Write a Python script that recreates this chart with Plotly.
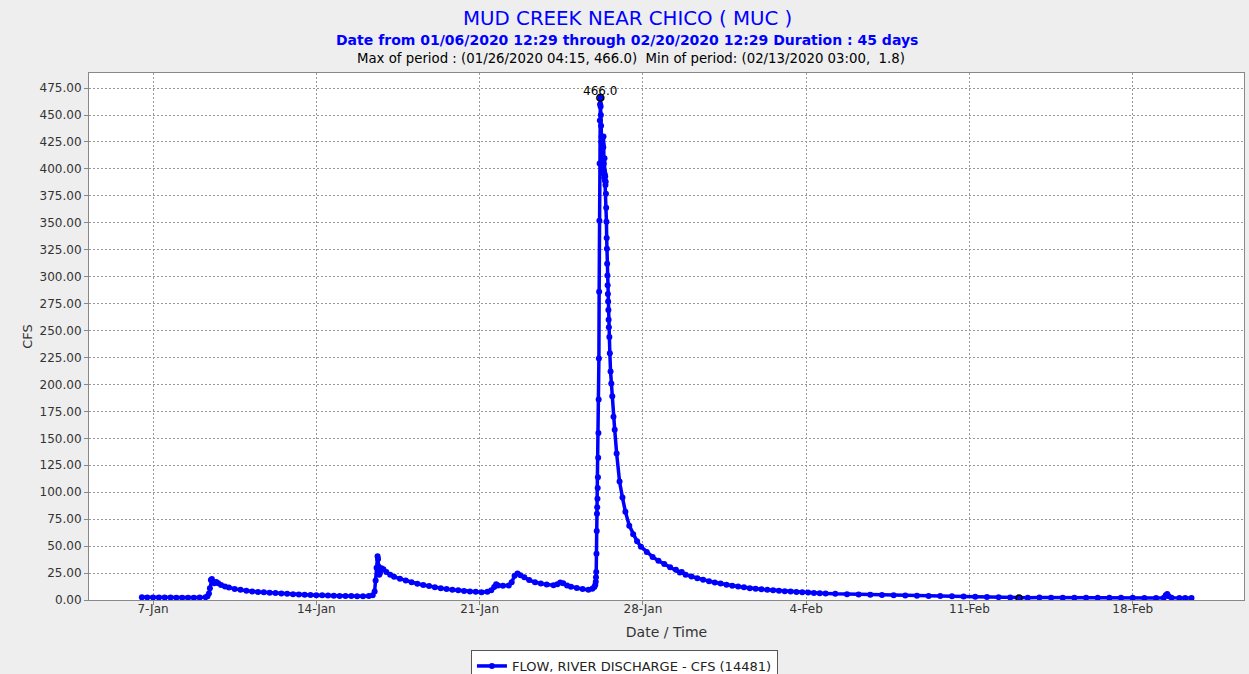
import plotly.graph_objects as go

# ---- data ----
times = [
    "2020-01-06 12:30", "2020-01-06 18:00", "2020-01-07 00:00", "2020-01-07 06:00", "2020-01-07 12:00",
    "2020-01-07 18:00", "2020-01-08 00:00", "2020-01-08 06:00", "2020-01-08 12:00", "2020-01-08 18:00",
    "2020-01-09 00:00", "2020-01-09 06:00", "2020-01-09 08:00", "2020-01-09 09:30", "2020-01-09 10:30",
    "2020-01-09 11:30", "2020-01-09 12:30", "2020-01-09 13:30", "2020-01-09 15:00", "2020-01-09 17:00",
    "2020-01-09 19:00", "2020-01-09 22:00", "2020-01-10 02:00", "2020-01-10 06:00", "2020-01-10 12:00",
    "2020-01-10 18:00", "2020-01-11 00:00", "2020-01-11 06:00", "2020-01-11 12:00", "2020-01-11 18:00",
    "2020-01-12 00:00", "2020-01-12 06:00", "2020-01-12 12:00", "2020-01-12 18:00", "2020-01-13 00:00",
    "2020-01-13 06:00", "2020-01-13 12:00", "2020-01-13 18:00", "2020-01-14 00:00", "2020-01-14 06:00",
    "2020-01-14 12:00", "2020-01-14 18:00", "2020-01-15 00:00", "2020-01-15 06:00", "2020-01-15 12:00",
    "2020-01-15 18:00", "2020-01-16 00:00", "2020-01-16 06:00", "2020-01-16 10:00", "2020-01-16 12:00",
    "2020-01-16 13:00", "2020-01-16 14:00", "2020-01-16 15:00", "2020-01-16 15:30", "2020-01-16 16:00",
    "2020-01-16 16:45", "2020-01-16 17:30", "2020-01-16 19:00", "2020-01-16 21:00", "2020-01-17 00:00",
    "2020-01-17 04:00", "2020-01-17 08:00", "2020-01-17 14:00", "2020-01-17 20:00", "2020-01-18 02:00",
    "2020-01-18 08:00", "2020-01-18 14:00", "2020-01-18 20:00", "2020-01-19 02:00", "2020-01-19 08:00",
    "2020-01-19 14:00", "2020-01-19 20:00", "2020-01-20 02:00", "2020-01-20 08:00", "2020-01-20 14:00",
    "2020-01-20 20:00", "2020-01-21 02:00", "2020-01-21 08:00", "2020-01-21 12:00", "2020-01-21 15:00",
    "2020-01-21 17:00", "2020-01-21 19:00", "2020-01-22 00:00", "2020-01-22 06:00", "2020-01-22 09:00",
    "2020-01-22 12:00", "2020-01-22 15:00", "2020-01-22 18:00", "2020-01-22 22:00", "2020-01-23 03:00",
    "2020-01-23 09:00", "2020-01-23 15:00", "2020-01-23 21:00", "2020-01-24 04:00", "2020-01-24 08:00",
    "2020-01-24 11:00", "2020-01-24 14:00", "2020-01-24 18:00", "2020-01-24 22:00", "2020-01-25 04:00",
    "2020-01-25 10:00", "2020-01-25 16:00", "2020-01-25 20:00", "2020-01-25 22:00", "2020-01-25 23:00",
    "2020-01-25 23:30", "2020-01-25 23:45", "2020-01-26 00:00", "2020-01-26 00:15", "2020-01-26 00:30",
    "2020-01-26 00:45", "2020-01-26 01:00", "2020-01-26 01:15", "2020-01-26 01:30", "2020-01-26 01:45",
    "2020-01-26 02:00", "2020-01-26 02:15", "2020-01-26 02:30", "2020-01-26 02:45", "2020-01-26 03:00",
    "2020-01-26 03:15", "2020-01-26 03:30", "2020-01-26 03:45", "2020-01-26 04:00", "2020-01-26 04:15",
    "2020-01-26 04:30", "2020-01-26 04:45", "2020-01-26 05:00", "2020-01-26 05:15", "2020-01-26 05:30",
    "2020-01-26 05:45", "2020-01-26 06:00", "2020-01-26 06:15", "2020-01-26 06:30", "2020-01-26 06:45",
    "2020-01-26 07:00", "2020-01-26 07:15", "2020-01-26 07:30", "2020-01-26 07:45", "2020-01-26 08:00",
    "2020-01-26 08:15", "2020-01-26 08:30", "2020-01-26 08:45", "2020-01-26 09:00", "2020-01-26 09:15",
    "2020-01-26 09:30", "2020-01-26 09:45", "2020-01-26 10:00", "2020-01-26 10:15", "2020-01-26 10:30",
    "2020-01-26 10:45", "2020-01-26 11:00", "2020-01-26 11:15", "2020-01-26 11:30", "2020-01-26 11:45",
    "2020-01-26 12:00", "2020-01-26 12:15", "2020-01-26 12:30", "2020-01-26 12:45", "2020-01-26 13:00",
    "2020-01-26 13:30", "2020-01-26 14:00", "2020-01-26 14:45", "2020-01-26 15:30", "2020-01-26 16:30",
    "2020-01-26 17:45", "2020-01-26 19:00", "2020-01-26 21:00", "2020-01-27 00:00", "2020-01-27 03:00",
    "2020-01-27 06:00", "2020-01-27 10:00", "2020-01-27 14:00", "2020-01-27 18:00", "2020-01-27 22:00",
    "2020-01-28 04:00", "2020-01-28 10:00", "2020-01-28 16:00", "2020-01-28 22:00", "2020-01-29 04:00",
    "2020-01-29 10:00", "2020-01-29 14:00", "2020-01-29 16:00", "2020-01-29 20:00", "2020-01-30 02:00",
    "2020-01-30 08:00", "2020-01-30 14:00", "2020-01-30 20:00", "2020-01-31 02:00", "2020-01-31 08:00",
    "2020-01-31 14:00", "2020-01-31 20:00", "2020-02-01 02:00", "2020-02-01 08:00", "2020-02-01 14:00",
    "2020-02-01 20:00", "2020-02-02 02:00", "2020-02-02 08:00", "2020-02-02 14:00", "2020-02-02 20:00",
    "2020-02-03 02:00", "2020-02-03 08:00", "2020-02-03 14:00", "2020-02-03 20:00", "2020-02-04 02:00",
    "2020-02-04 08:00", "2020-02-04 14:00", "2020-02-04 20:00", "2020-02-05 06:00", "2020-02-05 18:00",
    "2020-02-06 06:00", "2020-02-06 18:00", "2020-02-07 06:00", "2020-02-07 18:00", "2020-02-08 06:00",
    "2020-02-08 18:00", "2020-02-09 06:00", "2020-02-09 18:00", "2020-02-10 06:00", "2020-02-10 18:00",
    "2020-02-11 06:00", "2020-02-11 18:00", "2020-02-12 06:00", "2020-02-12 18:00", "2020-02-13 03:00",
    "2020-02-13 12:00", "2020-02-14 00:00", "2020-02-14 12:00", "2020-02-15 00:00", "2020-02-15 12:00",
    "2020-02-16 00:00", "2020-02-16 12:00", "2020-02-17 00:00", "2020-02-17 12:00", "2020-02-18 00:00",
    "2020-02-18 12:00", "2020-02-19 00:00", "2020-02-19 08:00", "2020-02-19 10:00", "2020-02-19 11:30",
    "2020-02-19 13:00", "2020-02-19 16:00", "2020-02-20 00:00", "2020-02-20 06:00", "2020-02-20 12:30",
]
flow_cfs = [
    2.5, 2.4, 2.4, 2.3, 2.3,
    2.3, 2.2, 2.2, 2.2, 2.2,
    2.3, 2.6, 3.5, 6.0, 11.0,
    18.5, 19.5, 17.0, 15.5, 16.8,
    15.6, 14.0, 12.6, 11.5, 10.3,
    9.4, 8.6, 8.0, 7.5, 7.1,
    6.7, 6.4, 6.0, 5.7, 5.4,
    5.2, 4.9, 4.7, 4.5, 4.3,
    4.1, 4.0, 3.8, 3.7, 3.6,
    3.5, 3.4, 3.6, 4.5, 8.0,
    18.0, 30.0, 40.5, 38.0, 31.0,
    23.5, 25.0, 29.5, 28.5, 26.0,
    23.5, 21.5, 19.8, 18.0, 16.5,
    15.1, 14.0, 12.9, 11.8, 11.0,
    10.1, 9.5, 9.0, 8.4, 8.0,
    7.6, 7.2, 7.6, 9.0, 12.0,
    14.5, 13.5, 13.2, 13.5, 16.5,
    22.5, 24.5, 23.0, 21.0, 18.5,
    16.5, 15.3, 14.3, 13.6, 14.5,
    16.3, 15.5, 13.5, 12.3, 11.2,
    10.2, 9.4, 10.5, 12.0, 14.0,
    17.0, 21.0, 26.0, 43.0, 64.0,
    80.0, 86.0, 94.0, 104.0, 114.0,
    132.0, 155.0, 186.0, 224.0, 286.0,
    352.0, 405.0, 445.0, 460.0, 466.0,
    458.0, 450.0, 440.0, 425.0, 430.0,
    418.0, 428.0, 402.0, 423.0, 410.0,
    396.0, 420.0, 430.0, 405.0, 398.0,
    392.0, 410.0, 395.0, 389.0, 393.0,
    385.0, 388.0, 377.0, 364.0, 351.0,
    336.0, 326.0, 312.0, 301.0, 292.0,
    284.0, 277.0, 269.0, 260.0, 253.0,
    244.0, 229.0, 212.0, 201.0, 189.0,
    170.0, 158.0, 136.0, 110.0, 95.0,
    82.0, 69.0, 61.0, 54.5, 49.5,
    44.5, 40.0, 36.5, 33.5, 30.5,
    28.0, 25.5, 26.0, 23.5, 21.8,
    20.2, 18.8, 17.5, 16.3, 15.2,
    14.2, 13.3, 12.5, 11.8, 11.0,
    10.5, 9.9, 9.4, 9.0, 8.6,
    8.2, 7.8, 7.5, 7.2, 6.9,
    6.6, 6.3, 6.1, 5.7, 5.4,
    5.1, 4.8, 4.6, 4.4, 4.2,
    4.0, 3.8, 3.6, 3.4, 3.2,
    3.0, 2.8, 2.6, 2.3, 1.8,
    2.2, 2.3, 2.2, 2.2, 2.1,
    2.1, 2.0, 2.0, 2.0, 2.0,
    1.9, 1.9, 2.1, 4.5, 5.5,
    3.5, 2.2, 1.9, 1.9, 1.9,
]
max_time, max_value = "2020-01-26 04:15", 466.0
min_time, min_value = "2020-02-13 03:00", 1.8
tick_dates = ["2020-01-07", "2020-01-14", "2020-01-21", "2020-01-28", "2020-02-04", "2020-02-11", "2020-02-18"]
tick_labels = ["7-Jan", "14-Jan", "21-Jan", "28-Jan", "4-Feb", "11-Feb", "18-Feb"]
y_ticks = list(range(0, 476, 25))

FONT = "DejaVu Sans"
BLUE = "#0000FF"
TXT = "#333333"

fig = go.Figure()
fig.add_trace(go.Scatter(
    x=times, y=flow_cfs, mode="lines+markers",
    name="FLOW, RIVER DISCHARGE - CFS (14481)",
    line=dict(color=BLUE, width=3.5),
    marker=dict(color=BLUE, size=6),
))
fig.add_trace(go.Scatter(
    x=[max_time], y=[max_value], mode="markers",
    marker=dict(symbol="circle-open", color="black", size=7, line=dict(width=1.5)),
    showlegend=False, hoverinfo="skip",
))
fig.add_trace(go.Scatter(
    x=[min_time], y=[min_value], mode="markers",
    marker=dict(symbol="circle-open", color="black", size=6, line=dict(width=1.5)),
    showlegend=False, hoverinfo="skip",
))
fig.add_annotation(x=max_time, y=max_value, text=f"{max_value:.1f}", showarrow=False,
                   xanchor="center", yanchor="bottom", yshift=-2,
                   font=dict(family=FONT, size=12, color="black"))

annots = [
    dict(text="MUD CREEK NEAR CHICO ( MUC )", x=0.466, y=1.104,
         font=dict(family=FONT, size=19.8, color=BLUE)),
    dict(text="<b>Date from 01/06/2020 12:29 through 02/20/2020 12:29 Duration : 45 days</b>",
         x=0.4658, y=1.0626, font=dict(family=FONT, size=14, color=BLUE)),
    dict(text="Max of period : (01/26/2020 04:15, 466.0)  Min of period: (02/13/2020 03:00,  1.8)",
         x=0.469, y=1.0266, font=dict(family=FONT, size=13.3, color="black")),
]
for a in annots:
    fig.add_annotation(xref="paper", yref="paper", xanchor="center", yanchor="middle",
                       showarrow=False, **a)

fig.update_layout(
    width=1249, height=674,
    margin=dict(l=89, r=5, t=73, b=74, autoexpand=False),
    paper_bgcolor="#EEEEEE", plot_bgcolor="white",
    font=dict(family=FONT, size=12, color=TXT),
    showlegend=True,
    legend=dict(orientation="h", x=0.4636, xanchor="center",
                yref="container", y=1 - 650 / 674, yanchor="top",
                bgcolor="white", bordercolor="#555555", borderwidth=1,
                font=dict(family=FONT, size=13, color="#222222")),
)
fig.update_xaxes(
    range=["2020-01-04 06:06", "2020-02-22 18:30"],
    tickvals=tick_dates, ticktext=tick_labels,
    ticks="outside", ticklen=4, tickcolor="#888888", ticklabelstandoff=-6,
    showgrid=True, gridcolor="#999999", griddash="2px,2px", gridwidth=1,
    showline=True, linecolor="#888888", mirror=True, zeroline=False, automargin=False,
    tickfont=dict(family=FONT, size=12, color=TXT),
    title=dict(text="Date / Time", font=dict(family=FONT, size=14, color=TXT), standoff=11),
)
fig.update_yaxes(
    range=[0, 489], tickvals=y_ticks, tickformat=".2f",
    ticks="outside", ticklen=4, tickcolor="#888888",
    showgrid=True, gridcolor="#999999", griddash="2px,2px", gridwidth=1,
    showline=True, linecolor="#888888", mirror=True, zeroline=False, automargin=False,
    tickfont=dict(family=FONT, size=12, color=TXT),
    title=dict(text="CFS", font=dict(family=FONT, size=13, color=TXT), standoff=4),
)

fig.write_html("out.html", config={"displayModeBar": False},
               post_script="document.body.style.margin='0';document.body.style.padding='0';")
